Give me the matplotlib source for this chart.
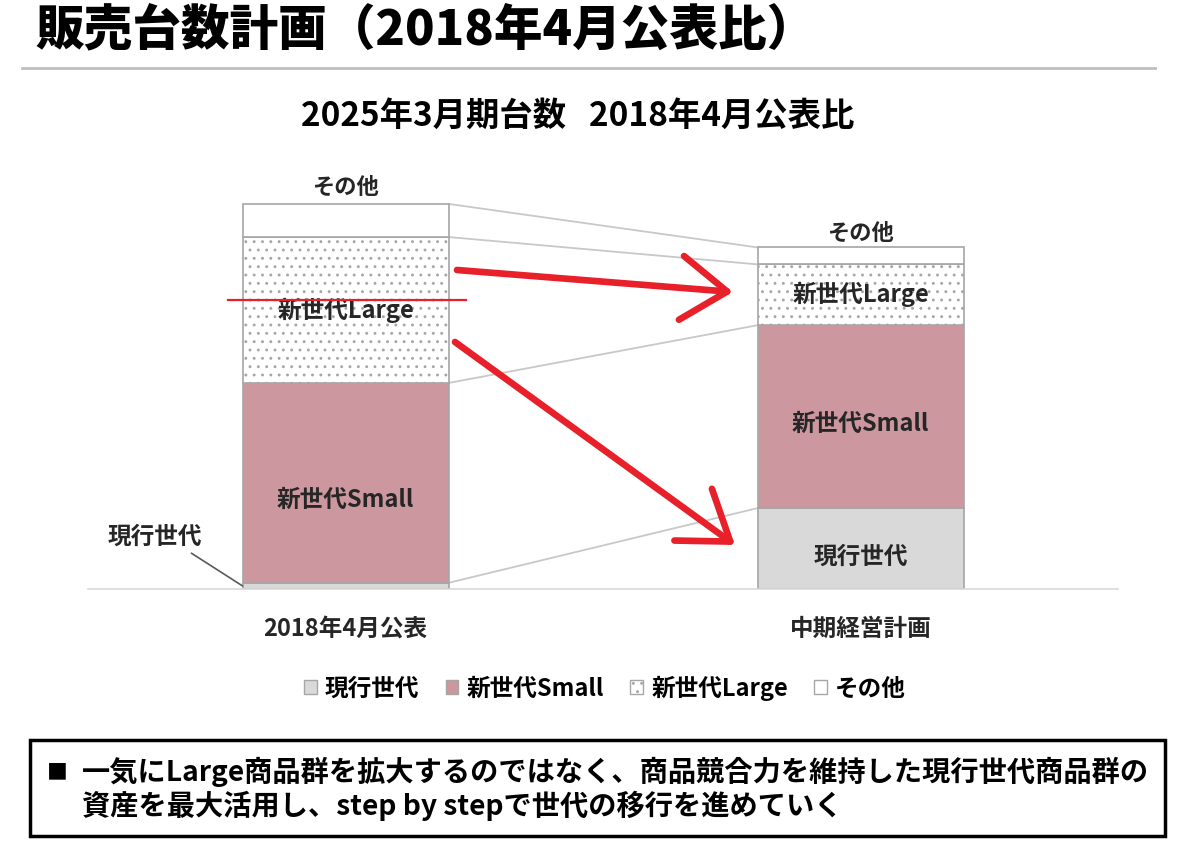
import numpy as np
import matplotlib
matplotlib.use("Agg")
import matplotlib.pyplot as plt
from matplotlib.patches import Rectangle, FancyArrowPatch, Patch
from matplotlib.lines import Line2D

plt.rcParams['font.family'] = ['Noto Sans CJK JP', 'DejaVu Sans']
plt.rcParams['hatch.linewidth'] = 0.9

# データ（2018年4月公表の合計を100とした相対値）
categories = ['2018年4月公表', '中期経営計画']
series_names = ['現行世代', '新世代Small', '新世代Large', 'その他']
genko = [1.6, 21.0]
small = [51.9, 47.5]
large = [37.9, 15.8]
other = [8.6, 4.4]

title = '販売台数計画（2018年4月公表比）'
subtitle = '2025年3月期台数   2018年4月公表比'
note_line1 = '一気にLarge商品群を拡大するのではなく、商品競合力を維持した現行世代商品群の'
note_line2 = '資産を最大活用し、step by stepで世代の移行を進めていく'

W, H = 1187, 843
def fpx(x, y):
    # ピクセル座標 -> figure座標
    return x / W, 1 - y / H

fig = plt.figure(figsize=(W / 100, H / 100), dpi=100)

# タイトルと区切り線
fig.text(*fpx(36, 30), title, fontsize=35, weight='black', va='center', ha='left')
fig.add_artist(Line2D([22 / W, 1155 / W], [1 - 68 / H] * 2, color='#bfbfbf', lw=2,
                      transform=fig.transFigure))
fig.text(*fpx(578, 116), subtitle, fontsize=24, weight='bold', va='center', ha='center')

ax = fig.add_axes([88 / W, 1 - 589 / H, 1030 / W, 439 / H])
x = np.arange(len(categories))
width = 0.4
colors = ['#d9d9d9', '#cc979e', 'white', 'white']
hatches = [None, None, '..', None]
edge = '#a6a6a6'
txt = '#262626'

bottom = np.zeros(len(categories))
for vals, c, h, name in zip([genko, small, large, other], colors, hatches, series_names):
    ax.bar(x, vals, width, bottom=bottom, color=c, edgecolor=edge, hatch=h,
           linewidth=1.2, label=name, zorder=2)
    bottom = bottom + np.array(vals)

# 棒の間の連結線
levels = np.cumsum(np.array([genko, small, large, other]), axis=0)
for lv in levels:
    ax.plot([x[0] + width / 2, x[1] - width / 2], [lv[0], lv[1]], color='#c8c8c8', lw=1.3, zorder=1)

# 区分ラベル
bot = np.vstack([np.zeros(2), levels[:-1]])
lab_kw = dict(ha='center', va='center', fontsize=17, weight='bold', color=txt, zorder=3)
ax.text(x[0], bot[1][0] + small[0] / 2 - 4.5, '新世代Small', **lab_kw)
ax.text(x[0], bot[2][0] + large[0] / 2, '新世代Large', **lab_kw)
ax.text(x[1], bot[1][1] + small[1] / 2 - 1.8, '新世代Small', **lab_kw)
ax.text(x[1], bot[2][1] + large[1] / 2, '新世代Large', **lab_kw)
ax.text(x[1], genko[1] / 2 - 2, '現行世代', **lab_kw)
for i in range(2):
    ax.annotate('その他', (x[i], levels[3][i]), xytext=(0, 17 - 3 * i), textcoords='offset pixels',
                ha='center', va='center', fontsize=16, weight='bold', color=txt)
ax.annotate('現行世代', (x[0] - width / 2, genko[0] / 2), xytext=(-88, 49), textcoords='offset pixels',
            ha='center', va='center', fontsize=17, weight='bold', color=txt,
            arrowprops=dict(arrowstyle='-', color='#595959', lw=1.2, shrinkA=2, shrinkB=0,
                            relpos=(0.82, 0)))

ax.set_xlim(-0.5, 1.5)
ax.set_ylim(0, 114)
ax.set_xticks(x)
ax.set_xticklabels(categories, fontsize=17, weight='bold', color=txt)
ax.tick_params(axis='x', length=0, pad=20)
ax.set_yticks([])
for s in ['top', 'left', 'right']:
    ax.spines[s].set_visible(False)
ax.spines['bottom'].set_color('#d9d9d9')
ax.spines['bottom'].set_linewidth(1.2)

# 凡例
handles = [Patch(facecolor=c, edgecolor=edge, hatch=h, lw=1) for c, h in zip(colors, hatches)]
fig.legend(handles, series_names, loc='center', bbox_to_anchor=fpx(605, 688), ncol=4, frameon=False,
           handlelength=0.55, handleheight=0.55, handletextpad=0.35, columnspacing=1.1,
           prop=dict(size=17, weight='bold'))

# 赤い矢印（手書きの注記）
red = '#e8202a'
fig.add_artist(Line2D([228 / W, 466 / W], [1 - 300 / H] * 2, color=red, lw=1.6, transform=fig.transFigure))
for (x0, y0), (x1, y1) in [((457, 270), (733, 292)), ((455, 342), (735, 545))]:
    arr = FancyArrowPatch(fpx(x0, y0), fpx(x1, y1), transform=fig.transFigure,
                          arrowstyle='->,head_length=3.3,head_width=2.3', color=red, lw=4.8,
                          mutation_scale=10, shrinkA=0, shrinkB=0, capstyle='round')
    fig.add_artist(arr)

# 下部の枠とコメント
fig.add_artist(Rectangle(fpx(30, 836), 1135 / W, 96 / H, fill=False, edgecolor='black', lw=2.5,
                         transform=fig.transFigure))
fig.text(*fpx(47, 772), '■', fontsize=15, weight='bold', va='center', ha='left')
fig.text(*fpx(82, 772), note_line1, fontsize=20.3, weight='bold', va='center', ha='left')
fig.text(*fpx(82, 806), note_line2, fontsize=20.3, weight='bold', va='center', ha='left')

fig.savefig('out.png', dpi=100)
